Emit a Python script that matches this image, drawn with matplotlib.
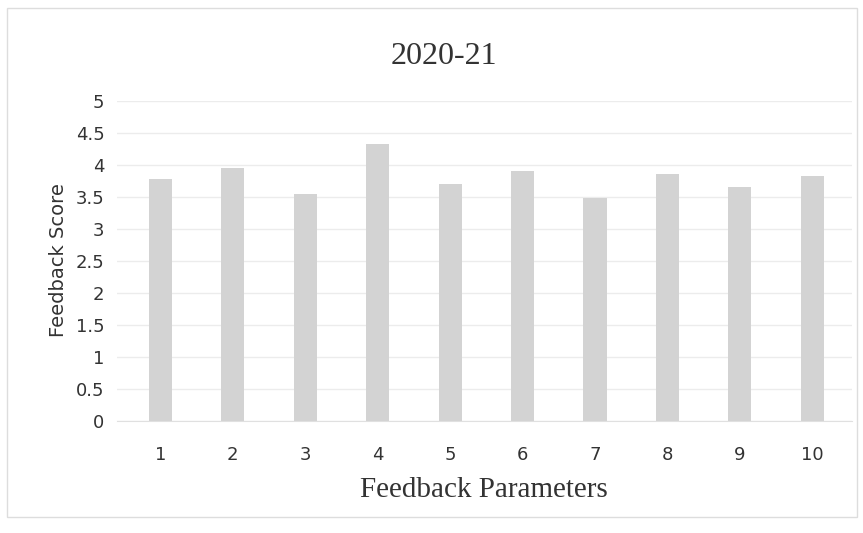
import matplotlib.pyplot as plt
import numpy as np

params = [1, 2, 3, 4, 5, 6, 7, 8, 9, 10]
scores = [3.78, 3.96, 3.55, 4.33, 3.71, 3.90, 3.49, 3.86, 3.65, 3.83]
yticks = [0, 0.5, 1, 1.5, 2, 2.5, 3, 3.5, 4, 4.5, 5]

fig = plt.figure(figsize=(8.63, 5.33), dpi=100)
ax = fig.add_axes([117 / 863, 1 - 421 / 533, 735 / 863, 320 / 533])

x = np.arange(len(params))
ax.bar(x, scores, width=0.32, color='#d3d3d3', zorder=2)

ax.set_xlim(-0.6, len(params) - 0.45)
ax.set_ylim(0, 5)
ax.set_yticks(yticks)
ax.set_yticklabels([('%g' % v) for v in yticks], fontsize=13, color='#333333')
ax.set_xticks(x)
ax.set_xticklabels([str(p) for p in params], fontsize=13, color='#333333')
ax.tick_params(axis='y', length=0, pad=9)
ax.tick_params(axis='x', length=0, pad=18)
ax.grid(axis='y', color='#ececec', linewidth=1, zorder=0)
for s in ['top', 'right', 'left']:
    ax.spines[s].set_visible(False)
ax.spines['bottom'].set_color('#e0e0e0')

fig.text(444 / 863, 1 - 57 / 533, '2020-21', fontsize=23, family='Liberation Serif',
         color='#333333', ha='center', va='center')
fig.text(484 / 863, 1 - 490 / 533, 'Feedback Parameters', fontsize=21, family='Liberation Serif',
         color='#333333', ha='center', va='center')
fig.text(58 / 863, 1 - 260 / 533, 'Feedback Score', fontsize=14, rotation=90,
         color='#333333', ha='center', va='center')

# faint chart border
fig.patches.append(plt.Rectangle((0.008, 0.03), 0.985, 0.955, transform=fig.transFigure,
                                 fill=False, edgecolor='#dddddd', linewidth=1))

fig.savefig('out.png', dpi=100)
